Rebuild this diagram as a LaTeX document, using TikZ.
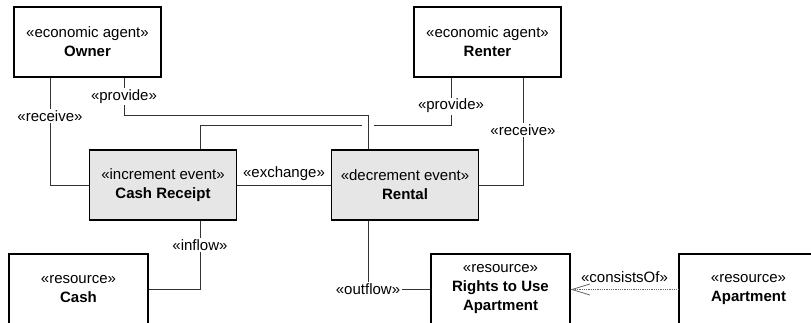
\documentclass[tikz,border=0pt]{standalone}
\usepackage{fontspec}
\setmainfont{Liberation Sans}
\usetikzlibrary{arrows.meta}
\definecolor{eventgray}{HTML}{E6E6E6}
\tikzset{
    agent/.style={draw, line width=1.1pt, minimum width=147pt, minimum height=70pt,
        align=center, inner sep=0pt},
    event/.style={agent, fill=eventgray},
    res/.style={agent, minimum width=139pt, minimum height=71pt},
    rel/.style={draw=black!80, line width=0.8pt},
    lbl/.style={fill=white, inner sep=1.5pt},
}
\begin{document}
\begin{tikzpicture}[x=1pt, y=-1pt, every node/.style={font=\fontsize{15}{19}\selectfont}]
        \useasboundingbox (0, 0) rectangle (811, 323);

        \node[agent] (owner) at (87.5, 42) {«economic agent»\\\textbf{Owner}};
        \node[agent] (renter) at (487.5, 42) {«economic agent»\\\textbf{Renter}};
        \node[event] (cashrcpt) at (163, 185) {«increment event»\\\textbf{Cash Receipt}};
        \node[event] (rental) at (405, 185) {«decrement event»\\\textbf{Rental}};
        \node[res] (cash) at (78.5, 289.5) {«resource»\\\textbf{Cash}};
        \node[res] (rights) at (500.5, 289.5) {«resource»\\\textbf{Rights to Use}\\\textbf{Apartment}};
        \node[res] (apt) at (748.5, 289.5) {«resource»\\\textbf{Apartment}};

        \draw[rel] ([xshift=-37.5pt]owner.south) |- node[lbl, pos=0.18]{«receive»} (cashrcpt.west);
        \draw[rel] ([xshift=36.5pt]owner.south) -- node[lbl]{«provide»} ++(0, 38)
            -| ([xshift=-37pt]rental.north);

        % crossing with a gap
        \coordinate (hop) at (368, 125);
        \draw[rel] ([xshift=37pt]cashrcpt.north) |- ([xshift=-6pt]hop);
        \draw[rel] ([xshift=6pt]hop) -| node[lbl, pos=0.7]{«provide»} ([xshift=-36.5pt]renter.south);
        \draw[rel] ([xshift=35.5pt]renter.south) |- node[lbl, pos=0.245]{«receive»} (rental.east);

        \draw[rel] (cashrcpt) -- node[above=1pt]{«exchange»} (rental);
        \draw[rel] ([xshift=37pt]cashrcpt.south) |- node[lbl, pos=0.18]{«inflow»} (cash.east);
        \draw[rel] ([xshift=-37pt]rental.south) |- node[lbl]{«outflow»} (rights.west);

        \draw[rel, draw=black!60, densely dotted, -{Straight Barb[length=18pt, width=11pt]}]
            (apt.west) -- node[above=3pt]{«consistsOf»} (rights.east);
    \end{tikzpicture}
\end{document}
